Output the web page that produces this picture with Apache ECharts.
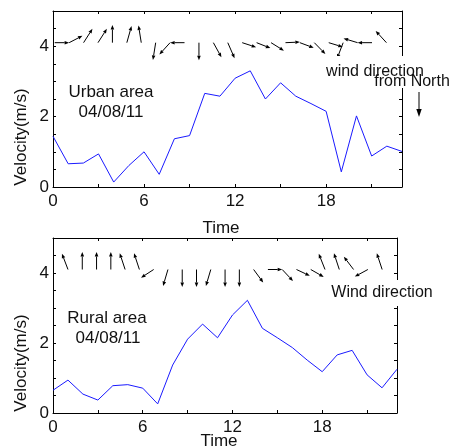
<!DOCTYPE html>
<html>
<head>
<meta charset="utf-8">
<script src="https://cdn.jsdelivr.net/npm/echarts@6/dist/echarts.min.js"></script>
<style>html,body{margin:0;padding:0;background:#fff}#c{width:452px;height:448px}</style>
</head>
<body>
<div id="c"></div>
<script>
// ---------- data ----------
const hours = [0,1,2,3,4,5,6,7,8,9,10,11,12,13,14,15,16,17,18,19,20,21,22,23];
const urbanSpeed = [1.44,0.66,0.68,0.94,0.14,0.61,1.00,0.36,1.37,1.46,2.66,2.58,3.09,3.30,2.50,2.96,2.58,2.37,2.15,0.43,2.02,0.88,1.16,1.01];
const ruralSpeed = [0.65,0.94,0.54,0.37,0.78,0.81,0.71,0.26,1.37,2.11,2.54,2.15,2.80,3.22,2.42,2.15,1.87,1.51,1.18,1.66,1.79,1.09,0.72,1.25];
// wind arrow direction (degrees, direction arrow points to; 0 = up, 90 = right)
const urbanArrowHours = [0,1,2,3,4,5,6,7,8,9,10,11,12,13,14,15,16,17,18,19,20,21,22,23];
const urbanDir = [90,67,38,38,0,19,349,191,228,270,180,146,152,105,108,117,88,107,130,104,205,284,270,312];
const ruralArrowHours = [1,2,3,4,5,6,7,8,9,10,11,12,13,14,15,16,17,18,19,20,21,22,23];
const ruralDir = [335,0,0,0,338,338,242,200,180,180,200,180,180,138,90,131,111,115,334,338,317,246,338];
const xTickLabels = [0,6,12,18];
const yTickLabels = [0,2,4];

// ---------- style constants ----------
const FONT = "'Liberation Sans', Arial, sans-serif";
const ARROW_BASE = 4.1;   // velocity level of arrow tails
const ARROW_DY = 0.5;     // vertical unit of arrow length (velocity units)

function arrowItem(params, api) {
  const i = api.value(0), deg = api.value(2);
  const p = api.coord([i, ARROW_BASE]);
  const ux = api.size([1, 0])[0];
  const uy = api.size([0, ARROW_DY])[1];
  const t = deg * Math.PI / 180;
  const hx = p[0] + Math.sin(t) * ux, hy = p[1] - Math.cos(t) * uy;
  const ang = Math.atan2(hy - p[1], hx - p[0]);
  const L = 4.5, W = 1.8;
  const bx = hx - L * Math.cos(ang), by = hy - L * Math.sin(ang);
  const nx = -Math.sin(ang) * W, ny = Math.cos(ang) * W;
  return {
    type: 'group',
    children: [
      { type: 'line', shape: { x1: p[0], y1: p[1], x2: bx, y2: by }, style: { stroke: '#000', lineWidth: 1 } },
      { type: 'polygon', shape: { points: [[hx, hy], [bx + nx, by + ny], [bx - nx, by - ny]] }, style: { fill: '#000' } }
    ]
  };
}

function xAxisMain(gi) {
  return {
    type: 'value', gridIndex: gi, min: 0, max: 23, interval: 3, position: 'bottom',
    axisLine: { show: true, onZero: false, lineStyle: { color: '#000', width: 1 } },
    axisTick: { show: true, inside: true, length: 3, lineStyle: { color: '#000' } },
    axisLabel: { margin: 6, fontSize: 17, fontFamily: FONT, color: '#111',
      formatter: v => (xTickLabels.indexOf(v) >= 0 ? String(v) : '') },
    splitLine: { show: false }
  };
}
function xAxisTop(gi) {
  return {
    type: 'value', gridIndex: gi, min: 0, max: 23, interval: 3, position: 'top',
    axisLine: { show: true, onZero: false, lineStyle: { color: '#000', width: 1 } },
    axisTick: { show: true, inside: true, length: 3, lineStyle: { color: '#000' } },
    axisLabel: { show: false }, splitLine: { show: false }
  };
}
function xAxisArrows(gi, min, max) {
  return { type: 'value', gridIndex: gi, min: min, max: max, show: false, splitLine: { show: false } };
}
function yAxisLeft(gi) {
  return {
    type: 'value', gridIndex: gi, min: 0, max: 5, interval: 0.5, position: 'left',
    axisLine: { show: true, onZero: false, lineStyle: { color: '#000', width: 1 } },
    axisTick: { show: true, inside: true, length: 3, lineStyle: { color: '#000' } },
    axisLabel: { margin: 4, fontSize: 17, fontFamily: FONT, color: '#111',
      formatter: v => (yTickLabels.indexOf(v) >= 0 ? String(v) : '') },
    splitLine: { show: false }
  };
}
function yAxisRight(gi) {
  return {
    type: 'value', gridIndex: gi, min: 0, max: 5, interval: 0.5, position: 'right',
    axisLine: { show: true, onZero: false, lineStyle: { color: '#000', width: 1 } },
    axisTick: { show: true, inside: true, length: 3, lineStyle: { color: '#000' } },
    axisLabel: { show: false }, splitLine: { show: false }
  };
}

function txt(x, y, text, size, extra) {
  return Object.assign({
    type: 'text', x: x, y: y, z: 100,
    style: Object.assign({ text: text, fontSize: size, fontFamily: FONT, fill: '#111', align: 'center', verticalAlign: 'middle' }, extra || {})
  });
}

const chart = echarts.init(document.getElementById('c'), null, { renderer: 'canvas' });
const option = {
  animation: false,
  backgroundColor: '#fff',
  grid: [
    { left: 53, top: 11, width: 349, height: 176 },
    { left: 53, top: 238, width: 344, height: 175 }
  ],
  xAxis: [
    xAxisMain(0), xAxisTop(0), xAxisArrows(0, -0.12, 24.08),
    xAxisMain(1), xAxisTop(1), xAxisArrows(1, -0.05, 24.04)
  ],
  yAxis: [ yAxisLeft(0), yAxisRight(0), yAxisLeft(1), yAxisRight(1) ],
  series: [
    { type: 'line', xAxisIndex: 0, yAxisIndex: 0, data: hours.map((h, i) => [h, urbanSpeed[i]]),
      showSymbol: false, symbol: 'none', lineStyle: { color: '#1a1aff', width: 1 }, z: 3 },
    { type: 'custom', xAxisIndex: 2, yAxisIndex: 0, clip: false, renderItem: arrowItem,
      encode: { x: 0, y: 1 },
      data: urbanArrowHours.map((h, i) => [h, ARROW_BASE, urbanDir[i]]) },
    { type: 'line', xAxisIndex: 3, yAxisIndex: 2, data: hours.map((h, i) => [h, ruralSpeed[i]]),
      showSymbol: false, symbol: 'none', lineStyle: { color: '#1a1aff', width: 1 }, z: 3 },
    { type: 'custom', xAxisIndex: 5, yAxisIndex: 2, clip: false, renderItem: arrowItem,
      encode: { x: 0, y: 1 },
      data: ruralArrowHours.map((h, i) => [h, ARROW_BASE, ruralDir[i]]) }
  ],
  graphic: [
    txt(111, 92, 'Urban area', 17),
    txt(111, 112, '04/08/11', 17),
    txt(107, 318, 'Rural area', 17),
    txt(108, 338, '04/08/11', 17),
    txt(375, 72, 'wind direction', 16, { backgroundColor: '#fff', padding: [4, 0, 12, 0] }),
    txt(412, 82, 'from North', 16),
    txt(382, 293, 'Wind direction', 16, { backgroundColor: '#fff', padding: [5, 0, 5, 0] }),
    txt(221, 228, 'Time', 17),
    txt(219, 441, 'Time', 17),
    Object.assign(txt(21, 137, 'Velocity(m/s)', 17), { rotation: Math.PI / 2 }),
    Object.assign(txt(21, 363, 'Velocity(m/s)', 17), { rotation: Math.PI / 2 }),
    { type: 'line', z: 100, shape: { x1: 419, y1: 92, x2: 419, y2: 110 }, style: { stroke: '#000', lineWidth: 1 } },
    { type: 'polygon', z: 100, shape: { points: [[419, 117], [416.3, 109], [421.7, 109]] }, style: { fill: '#000' } }
  ]
};
chart.setOption(option);
</script>
</body>
</html>
